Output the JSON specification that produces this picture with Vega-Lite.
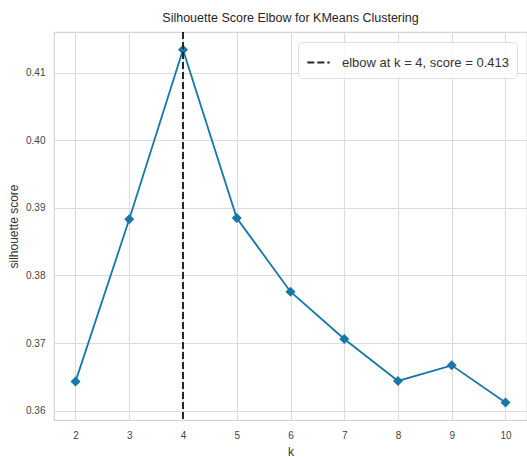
{
  "$schema": "https://vega.github.io/schema/vega-lite/v6.json",
  "width": 473,
  "height": 388,
  "autosize": "none",
  "padding": {"left": 54, "top": 32, "right": 0, "bottom": 37},
  "background": "white",
  "title": {
    "text": "Silhouette Score Elbow for KMeans Clustering",
    "font": "Liberation Sans",
    "fontSize": 12.5,
    "fontWeight": "normal",
    "color": "#262626",
    "offset": 7,
    "anchor": "middle"
  },
  "config": {
    "font": "Liberation Sans",
    "view": {"stroke": "#d5d5d5", "strokeWidth": 1.2},
    "axis": {
      "gridColor": "#dcdcdc",
      "gridWidth": 1.2,
      "domain": false,
      "ticks": false,
      "labelFont": "Liberation Sans",
      "labelFontSize": 10,
      "labelColor": "#444444",
      "titleFont": "Liberation Sans",
      "titleFontSize": 12,
      "titleFontWeight": "normal",
      "titleColor": "#333333"
    }
  },
  "datasets": {
    "scores": [
      {"k": 2, "score": 0.3643},
      {"k": 3, "score": 0.3883},
      {"k": 4, "score": 0.4134},
      {"k": 5, "score": 0.3885},
      {"k": 6, "score": 0.3776},
      {"k": 7, "score": 0.3706},
      {"k": 8, "score": 0.3644},
      {"k": 9, "score": 0.3667},
      {"k": 10, "score": 0.3612}
    ],
    "elbow": [
      {"k": 4, "score": 0.413, "label": "elbow at k = 4, score = 0.413"}
    ]
  },
  "layer": [
    {
      "data": {"name": "scores"},
      "mark": {"type": "line", "color": "#1677a8", "strokeWidth": 1.8, "clip": true},
      "encoding": {
        "x": {
          "field": "k",
          "type": "quantitative",
          "scale": {"domain": [1.6, 10.4], "nice": false, "zero": false},
          "axis": {"values": [2, 3, 4, 5, 6, 7, 8, 9, 10], "title": "k", "labelPadding": 10, "titlePadding": 6}
        },
        "y": {
          "field": "score",
          "type": "quantitative",
          "scale": {"domain": [0.35862, 0.41601], "nice": false, "zero": false},
          "axis": {"values": [0.36, 0.37, 0.38, 0.39, 0.4, 0.41], "format": ".2f", "title": "silhouette score", "labelPadding": 9, "titlePadding": 5}
        }
      }
    },
    {
      "data": {"name": "scores"},
      "mark": {"type": "point", "shape": "diamond", "filled": true, "color": "#1677a8", "size": 100, "opacity": 1},
      "encoding": {
        "x": {"field": "k", "type": "quantitative"},
        "y": {"field": "score", "type": "quantitative"}
      }
    },
    {
      "data": {"name": "elbow"},
      "mark": {"type": "rule", "color": "#262626", "strokeWidth": 2},
      "encoding": {
        "x": {"field": "k", "type": "quantitative"},
        "strokeDash": {
          "field": "label",
          "type": "nominal",
          "scale": {"range": [[7, 3]]},
          "legend": {
            "title": null,
            "orient": "none",
            "legendX": 244,
            "legendY": 10,
            "symbolType": "stroke",
            "symbolSize": 500,
            "symbolStrokeWidth": 2,
            "symbolStrokeColor": "#262626",
            "labelFont": "Liberation Sans",
            "labelFontSize": 13,
            "labelColor": "#333333",
            "labelOffset": 11,
            "labelLimit": 400,
            "padding": 8,
            "fillColor": "rgba(255,255,255,0.8)",
            "strokeColor": "#e0e0e0",
            "cornerRadius": 4
          }
        }
      }
    }
  ]
}
